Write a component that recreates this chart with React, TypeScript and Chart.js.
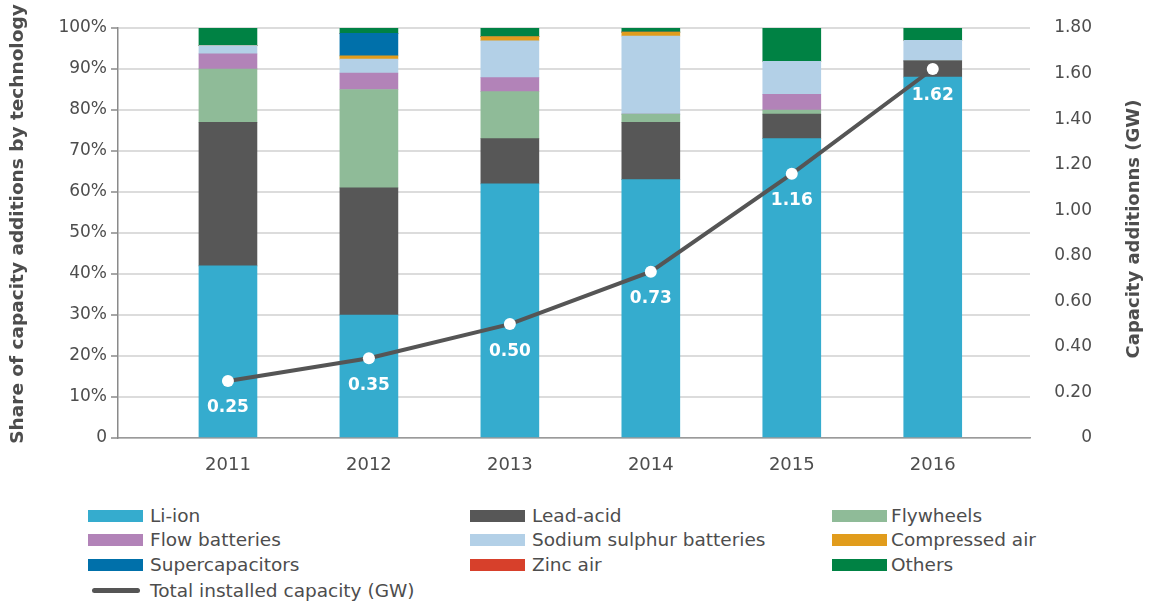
import React, { useEffect, useRef } from "react";
import { Chart, registerables } from "chart.js";

Chart.register(...registerables);

const years = ["2011", "2012", "2013", "2014", "2015", "2016"];
const liIon = [42, 30, 62, 63, 73, 88];
const leadAcid = [35, 31, 11, 14, 6, 4];
const flywheels = [13, 24, 11.5, 2, 1, 0];
const flowBatteries = [3.7, 4, 3.4, 0, 3.8, 0];
const sodiumSulphur = [2, 3.4, 9, 19, 8.1, 5];
const compressedAir = [0, 0.8, 1, 1, 0, 0];
const supercapacitors = [0, 5.5, 0, 0, 0, 0];
const zincAir = [0, 0, 0, 0, 0, 0];
const others = [4.3, 1.3, 2.1, 1.0, 8.1, 3.0];
const totalCapacity = [0.25, 0.35, 0.5, 0.73, 1.16, 1.62];

const leftTicks = [0, 10, 20, 30, 40, 50, 60, 70, 80, 90, 100];
const rightTicks = [0, 0.2, 0.4, 0.6, 0.8, 1.0, 1.2, 1.4, 1.6, 1.8];

const FONT = "'DejaVu Sans', sans-serif";
const TEXT = "#4d4d4d";

const series = [
  { label: "Li-ion", data: liIon, color: "#35acce" },
  { label: "Lead-acid", data: leadAcid, color: "#575757" },
  { label: "Flywheels", data: flywheels, color: "#8fbb98" },
  { label: "Flow batteries", data: flowBatteries, color: "#b283b8" },
  { label: "Sodium sulphur batteries", data: sodiumSulphur, color: "#b3d0e7" },
  { label: "Compressed air", data: compressedAir, color: "#e19c1c" },
  { label: "Supercapacitors", data: supercapacitors, color: "#0070aa" },
  { label: "Zinc air", data: zincAir, color: "#d7402b" },
  { label: "Others", data: others, color: "#008244" },
];

const overlayPlugin = {
  id: "overlay",
  afterDatasetsDraw(chart: any) {
    const ctx = chart.ctx;
    const lineIndex = chart.data.datasets.length - 1;
    const meta = chart.getDatasetMeta(lineIndex);
    ctx.save();
    ctx.fillStyle = "#ffffff";
    ctx.font = `bold 17px ${FONT}`;
    ctx.textAlign = "center";
    ctx.textBaseline = "middle";
    meta.data.forEach((pt: any, i: number) => {
      ctx.fillText(totalCapacity[i].toFixed(2), pt.x, pt.y + 27);
    });
    ctx.restore();
  },
  afterDraw(chart: any) {
    const ctx = chart.ctx;
    ctx.save();
    ctx.fillStyle = TEXT;
    ctx.font = `bold 18.5px ${FONT}`;
    ctx.textAlign = "center";
    ctx.textBaseline = "middle";
    ctx.translate(18, 224);
    ctx.rotate(-Math.PI / 2);
    ctx.fillText("Share of capacity additions by technology", 0, 0);
    ctx.restore();
    ctx.save();
    ctx.fillStyle = TEXT;
    ctx.font = `bold 18px ${FONT}`;
    ctx.textAlign = "center";
    ctx.textBaseline = "middle";
    ctx.translate(1134, 229);
    ctx.rotate(-Math.PI / 2);
    ctx.fillText("Capacity additionns (GW)", 0, 0);
    ctx.restore();
  },
};

function App() {
  const ref = useRef<HTMLCanvasElement>(null);
  useEffect(() => {
    if (!ref.current) return;
    const barSets = series.map((s) => ({
      type: "bar" as const,
      label: s.label,
      data: s.data.map((v, i) => ({ x: i, y: v })),
      backgroundColor: s.color,
      borderWidth: 0,
      barThickness: 58,
      yAxisID: "y",
      order: 2,
    }));
    const chart = new Chart(ref.current, {
      type: "bar",
      data: {
        datasets: [
          ...barSets,
          {
            type: "line" as const,
            label: "Total installed capacity (GW)",
            data: totalCapacity.map((v, i) => ({ x: i, y: v })),
            borderColor: "#555555",
            borderWidth: 4,
            pointRadius: 6,
            pointBackgroundColor: "#ffffff",
            pointBorderColor: "#ffffff",
            pointBorderWidth: 0,
            tension: 0,
            yAxisID: "y1",
            order: 0,
          } as any,
        ],
      },
      options: {
        animation: false,
        responsive: false,
        devicePixelRatio: 1,
        layout: { padding: { top: 28, left: 0, right: 57, bottom: 0 } },
        plugins: { legend: { display: false }, tooltip: { enabled: false } },
        scales: {
          x: {
            type: "linear",
            min: -0.78,
            max: 5.69,
            stacked: true,
            offset: false,
            grid: { display: false },
            border: { display: true, color: "#9a9a9a", width: 1.5 },
            afterBuildTicks: (s: any) => {
              s.ticks = years.map((_, i) => ({ value: i }));
            },
            afterFit: (s: any) => {
              s.height = 42;
            },
            ticks: {
              autoSkip: false,
              maxRotation: 0,
              padding: 9,
              color: TEXT,
              font: { family: FONT, size: 18 },
              callback: (v: any) => years[Math.round(Number(v))] ?? "",
            },
          },
          y: {
            type: "linear",
            position: "left",
            stacked: true,
            min: 0,
            max: 100,
            afterBuildTicks: (s: any) => {
              s.ticks = leftTicks.map((v) => ({ value: v }));
            },
            afterFit: (s: any) => {
              s.width = 118;
            },
            grid: {
              color: "#dcdcdc",
              lineWidth: 2,
              drawTicks: true,
              tickLength: 7,
              tickColor: "#8a8a8a",
              tickWidth: 1.5,
            },
            border: { display: true, color: "#8a8a8a", width: 1.5 },
            ticks: {
              padding: 4,
              color: TEXT,
              font: { family: FONT, size: 17 },
              callback: (v: any) => (Number(v) === 0 ? "0" : `${v}%`),
            },
          },
          y1: {
            type: "linear",
            position: "right",
            min: 0,
            max: 1.8,
            afterBuildTicks: (s: any) => {
              s.ticks = rightTicks.map((v) => ({ value: v }));
            },
            afterFit: (s: any) => {
              s.width = 62;
            },
            grid: { display: false, drawTicks: false },
            border: { display: false },
            ticks: {
              padding: 0,
              crossAlign: "far",
              color: TEXT,
              font: { family: FONT, size: 17 },
              callback: (v: any) => (Number(v) === 0 ? "0" : Number(v).toFixed(2)),
            },
          },
        },
      } as any,
      plugins: [overlayPlugin],
    });
    return () => chart.destroy();
  }, []);

  const rows = [516, 540, 565];
  const boxX = [88, 470, 832];
  const textX = [150, 532, 891];

  return (
    <div
      style={{
        position: "fixed",
        left: 0,
        top: 0,
        width: 1149,
        height: 603,
        background: "#ffffff",
        fontFamily: FONT,
      }}
    >
      <canvas ref={ref} width={1149} height={480} style={{ position: "absolute", left: 0, top: 0 }} />
      {series.map((s, i) => {
        const r = Math.floor(i / 3);
        const c = i % 3;
        return (
          <React.Fragment key={s.label}>
            <div
              style={{
                position: "absolute",
                left: boxX[c],
                top: rows[r] - 6,
                width: 55,
                height: 12,
                background: s.color,
              }}
            />
            <div
              style={{
                position: "absolute",
                left: textX[c],
                top: rows[r] - 11,
                height: 22,
                lineHeight: "22px",
                fontSize: 18.5,
                color: TEXT,
                whiteSpace: "nowrap",
              }}
            >
              {s.label}
            </div>
          </React.Fragment>
        );
      })}
      <div
        style={{
          position: "absolute",
          left: 92,
          top: 588,
          width: 48,
          height: 5,
          borderRadius: 3,
          background: "#555555",
        }}
      />
      <div
        style={{
          position: "absolute",
          left: 150,
          top: 580,
          height: 22,
          lineHeight: "22px",
          fontSize: 18.5,
          color: TEXT,
          whiteSpace: "nowrap",
        }}
      >
        Total installed capacity (GW)
      </div>
    </div>
  );
}

export default App;
